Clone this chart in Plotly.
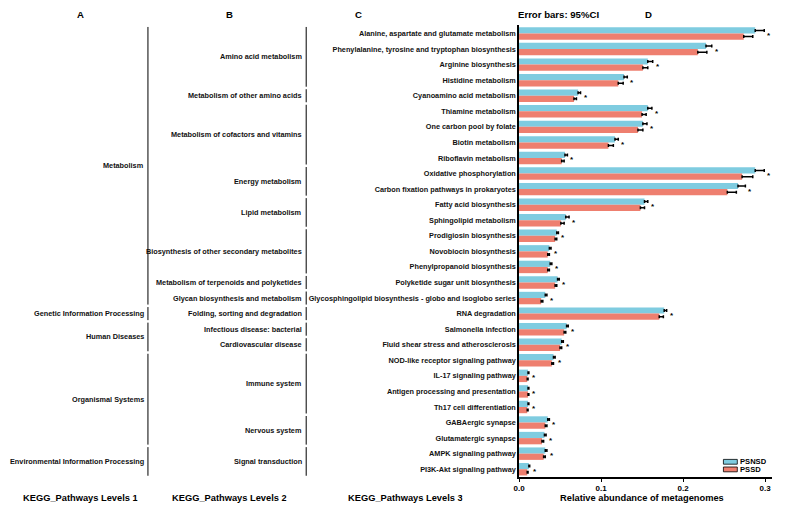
import plotly.graph_objects as go

# reference canvas and page offset (browser body margin)
W, H = 785, 512
OX, OY = 8, 8
FW, FH = W - 2 * OX, H - 2 * OY

pathways = [
    "Alanine, aspartate and glutamate metabolism",
    "Phenylalanine, tyrosine and tryptophan biosynthesis",
    "Arginine biosynthesis",
    "Histidine metabolism",
    "Cyanoamino acid metabolism",
    "Thiamine metabolism",
    "One carbon pool by folate",
    "Biotin metabolism",
    "Riboflavin metabolism",
    "Oxidative phosphorylation",
    "Carbon fixation pathways in prokaryotes",
    "Fatty acid biosynthesis",
    "Sphingolipid metabolism",
    "Prodigiosin biosynthesis",
    "Novobiocin biosynthesis",
    "Phenylpropanoid biosynthesis",
    "Polyketide sugar unit biosynthesis",
    "Glycosphingolipid biosynthesis - globo and isoglobo series",
    "RNA degradation",
    "Salmonella infection",
    "Fluid shear stress and atherosclerosis",
    "NOD-like receptor signaling pathway",
    "IL-17 signaling pathway",
    "Antigen processing and presentation",
    "Th17 cell differentiation",
    "GABAergic synapse",
    "Glutamatergic synapse",
    "AMPK signaling pathway",
    "PI3K-Akt signaling pathway",
]

psnsd = [0.288, 0.228, 0.157, 0.128, 0.072, 0.157, 0.151, 0.117, 0.056, 0.288,
         0.267, 0.153, 0.057, 0.046, 0.037, 0.038, 0.047, 0.032, 0.177, 0.058,
         0.052, 0.042, 0.011, 0.011, 0.011, 0.035, 0.031, 0.032, 0.012]
pssd = [0.274, 0.218, 0.151, 0.121, 0.067, 0.150, 0.145, 0.109, 0.052, 0.272,
        0.254, 0.148, 0.051, 0.044, 0.035, 0.035, 0.044, 0.027, 0.171, 0.055,
        0.050, 0.040, 0.010, 0.011, 0.010, 0.032, 0.028, 0.030, 0.010]
psnsd_err = [0.011, 0.007, 0.006, 0.004, 0.003, 0.005, 0.005, 0.004, 0.003, 0.011,
             0.009, 0.004, 0.004, 0.002, 0.002, 0.002, 0.002, 0.002, 0.003, 0.002,
             0.002, 0.002, 0.001, 0.001, 0.001, 0.002, 0.002, 0.002, 0.001]
pssd_err = [0.011, 0.011, 0.006, 0.006, 0.003, 0.005, 0.006, 0.006, 0.003, 0.013,
            0.011, 0.005, 0.004, 0.002, 0.002, 0.002, 0.002, 0.002, 0.005, 0.002,
            0.002, 0.002, 0.001, 0.001, 0.001, 0.002, 0.002, 0.002, 0.001]
signif = ["*"] * len(pathways)

# Level 2 groups: (label, number of level-3 pathways)
level2 = [
    ("Amino acid metabolism", 4),
    ("Metabolism of other amino acids", 1),
    ("Metabolism of cofactors and vitamins", 4),
    ("Energy metabolism", 2),
    ("Lipid metabolism", 2),
    ("Biosynthesis of other secondary metabolites", 3),
    ("Metabolism of terpenoids and polyketides", 1),
    ("Glycan biosynthesis and metabolism", 1),
    ("Folding, sorting and degradation", 1),
    ("Infectious disease: bacterial", 1),
    ("Cardiovascular disease", 1),
    ("Immune system", 4),
    ("Nervous system", 2),
    ("Signal transduction", 2),
]
# Level 1 groups
level1 = [
    ("Metabolism", 18),
    ("Genetic Information Processing", 1),
    ("Human Diseases", 2),
    ("Organismal Systems", 6),
    ("Environmental Information Processing", 2),
]

series_names = ["PSNSD", "PSSD"]
C_CYAN = "#7FCCE0"
C_SALMON = "#EE7F6F"
FONT = "Liberation Sans, Arial, sans-serif"
BARGAP = 0.2


def px(x):
    return (x - OX) / FW


def py(y):
    return 1 - (y - OY) / FH


fig = go.Figure()
for name, vals, errs, col in [(series_names[0], psnsd, psnsd_err, C_CYAN),
                              (series_names[1], pssd, pssd_err, C_SALMON)]:
    fig.add_trace(go.Bar(
        y=pathways, x=vals, orientation="h", name=name, showlegend=False,
        marker=dict(color=col, line=dict(width=0)),
        error_x=dict(type="data", symmetric=False, array=errs,
                     arrayminus=[0] * len(vals), color="black",
                     thickness=1.5, width=1.5),
    ))

annotations = []
shapes = []

# significance stars
for name, a, ea, b, eb, s in zip(pathways, psnsd, psnsd_err, pssd, pssd_err, signif):
    annotations.append(dict(
        x=max(a + ea, b + eb), y=name, xref="x", yref="y", text=s,
        showarrow=False, xanchor="left", yanchor="middle", xshift=1, yshift=-2,
        font=dict(size=8, color="black", family=FONT, weight="bold"),
    ))


def add_groups(groups, x_line, x_text):
    start = 0
    for label, n in groups:
        end = start + n - 1
        shapes.append(dict(
            type="line", xref="paper", yref="y",
            x0=px(x_line), x1=px(x_line), y0=start - 0.42, y1=end + 0.42,
            line=dict(color="black", width=1),
        ))
        annotations.append(dict(
            x=px(x_text), y=(start + end) / 2, xref="paper", yref="y",
            text=label, showarrow=False, xanchor="right", yanchor="middle",
            font=dict(size=7.3, color="#111111", family=FONT, weight="bold"),
        ))
        start += n


add_groups(level1, 143, 141)
add_groups(level2, 302.5, 300.5)

headers = [("A", 75), ("B", 225), ("C", 355), ("D", 647),
           ("Error bars: 95%CI", 557)]
for t, x in headers:
    annotations.append(dict(
        x=px(x), y=1, xref="paper", yref="paper", text=t, showarrow=False,
        xanchor="center", yanchor="top", yshift=1,
        font=dict(size=9.6, color="black", family=FONT, weight="bold"),
    ))

bottoms = [("KEGG_Pathways Levels 1", 75), ("KEGG_Pathways Levels 2", 225),
           ("KEGG_Pathways Levels 3", 403), ("Relative abundance of metagenomes", 641)]
for t, x in bottoms:
    annotations.append(dict(
        x=px(x), y=py(498), xref="paper", yref="paper", text=t, showarrow=False,
        xanchor="center", yanchor="middle", height=10,
        font=dict(size=9.3, color="black", family=FONT, weight="bold"),
    ))

# compact legend (swatch + label)
for i, (name, col) in enumerate([(series_names[0], C_CYAN), (series_names[1], C_SALMON)]):
    yc = 461.8 + 7.6 * i
    shapes.append(dict(
        type="rect", xref="paper", yref="paper",
        x0=px(723), x1=px(737), y0=py(yc - 2.4), y1=py(yc + 2.4),
        fillcolor=col, line=dict(color="black", width=0.8),
    ))
    annotations.append(dict(
        x=px(737.5), y=py(yc), xref="paper", yref="paper", text=name,
        showarrow=False, xanchor="left", yanchor="middle", height=7,
        font=dict(size=7.6, color="black", family=FONT, weight="bold"),
    ))

# tick marks at each bar centre (two bars per pathway)
n = len(pathways)
half = (1 - BARGAP) / 4
bar_ticks = []
for i in range(n):
    bar_ticks += [i - half, i + half]

fig.update_layout(
    width=FW, height=FH,
    margin=dict(l=0, r=0, t=0, b=0),
    paper_bgcolor="white", plot_bgcolor="white",
    barmode="group", bargap=BARGAP, bargroupgap=0,
    font=dict(family=FONT, color="black"),
    showlegend=False,
    xaxis=dict(
        domain=[px(517), px(772)], range=[0, 0.3085],
        tickvals=[0, 0.1, 0.2, 0.3], tickformat=".1f",
        ticks="outside", ticklen=3, tickwidth=1.2, tickcolor="black",
        showline=True, linecolor="black", linewidth=1.5,
        showgrid=False, zeroline=False,
        tickfont=dict(size=8, family=FONT, weight="bold"),
    ),
    yaxis=dict(
        domain=[py(477), py(25)], autorange="reversed",
        type="category",
        ticks="", ticklen=5,
        showline=True, linecolor="black", linewidth=1.5,
        showgrid=False, zeroline=False,
        tickfont=dict(size=7.3, family=FONT, color="#111111", weight="bold"),
    ),
    yaxis2=dict(
        domain=[py(477), py(25)], overlaying="y", side="left", anchor="x",
        type="linear", range=[n - 0.5, -0.5],
        tickvals=bar_ticks, showticklabels=False,
        ticks="outside", ticklen=3, tickwidth=1, tickcolor="black",
        showline=False, showgrid=False, zeroline=False,
    ),
    annotations=annotations,
    shapes=shapes,
)

fig.write_html("out.html")
